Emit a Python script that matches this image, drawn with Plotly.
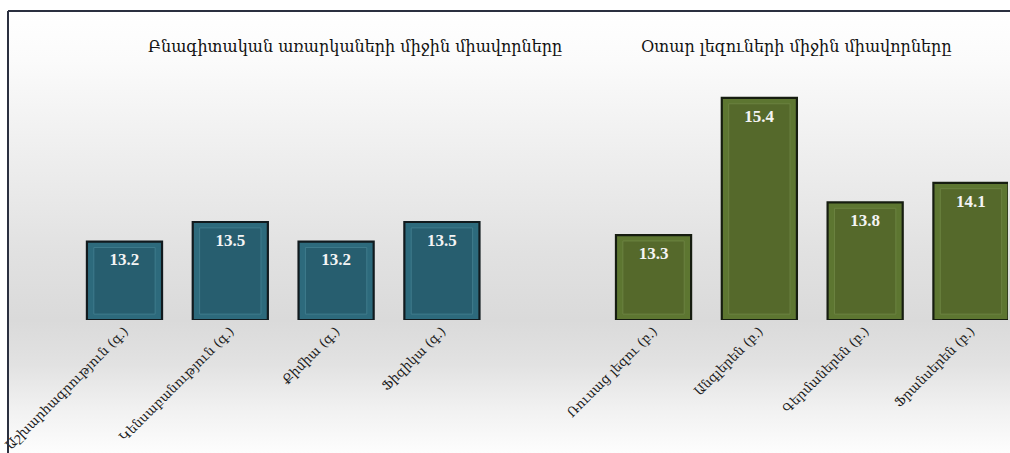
import base64
import plotly.graph_objects as go

# ---- data ----
science_labels = ["Աշխարհագրություն (գ.)", "Կենսաբանություն (գ.)", "Քիմիա (գ.)", "Ֆիզիկա (գ.)"]
science_values = [13.2, 13.5, 13.2, 13.5]
lang_labels = ["Ռուսաց լեզու (բ.)", "Անգլերեն (բ.)", "Գերմաներեն (բ.)", "Ֆրանսերեն (բ.)"]
lang_values = [13.3, 15.4, 13.8, 14.1]
science_title = "Բնագիտական առարկաների միջին միավորները"
lang_title = "Օտար լեզուների միջին միավորները"

science_x = [0, 1, 2, 3]
lang_x = [5, 6, 7, 8]

W, H = 1010, 453
Y_MIN, Y_MAX = 12.0, 15.75
FONT = "DejaVu Serif"

# background gradient (svg data uri)
stops = [(0.0, "#ffffff"), (0.11, "#fbfbfb"), (0.31, "#efefef"), (0.55, "#e1e1e1"),
         (0.70, "#dadada"), (0.80, "#e2e2e2"), (0.90, "#f1f1f1"), (1.0, "#fdfdfd")]
stop_xml = "".join(f'<stop offset="{o}" stop-color="{c}"/>' for o, c in stops)
svg = ('<svg xmlns="http://www.w3.org/2000/svg" width="1000" height="442" preserveAspectRatio="none">'
       '<defs><linearGradient id="g" x1="0" y1="0" x2="0" y2="1">' + stop_xml +
       '</linearGradient></defs><rect width="1000" height="442" fill="url(#g)"/></svg>')
bg_uri = "data:image/svg+xml;base64," + base64.b64encode(svg.encode()).decode()

fig = go.Figure()

def add_group(xs, vals, frame_col, panel_col, edge_col, hi_col):
    fig.add_trace(go.Bar(
        x=xs, y=[v - Y_MIN for v in vals], base=Y_MIN, width=0.71,
        marker=dict(color=frame_col, line=dict(color=edge_col, width=2.2)),
        hoverinfo="skip", showlegend=False,
    ))
    inset = 0.09
    fig.add_trace(go.Bar(
        x=xs, y=[v - Y_MIN - 2 * inset for v in vals], base=Y_MIN + inset, width=0.58,
        marker=dict(color=panel_col, line=dict(color=hi_col, width=1)),
        text=[f"{v:.1f}" for v in vals], textposition="inside",
        insidetextanchor="end",
        textfont=dict(family="Liberation Serif", size=17, color="#f4f4f4", weight="bold"),
        hoverinfo="skip", showlegend=False,
    ))

add_group(science_x, science_values, "#2d6a7c", "#275e6f", "#111a1e", "#3f7b8c")
add_group(lang_x, lang_values, "#5d7631", "#55692b", "#161d10", "#6b8240")

fig.update_layout(
    width=W, height=H,
    margin=dict(l=0, r=0, t=0, b=0),
    paper_bgcolor="#ffffff", plot_bgcolor="rgba(0,0,0,0)",
    barmode="overlay",
    template="none",
    uniformtext=dict(minsize=10, mode="show"),
    xaxis=dict(
        domain=[10 / W, 1008 / W],
        range=[-1.082, 8.35],
        tickmode="array",
        tickvals=science_x + lang_x,
        ticktext=science_labels + lang_labels,
        tickangle=-45,
        tickfont=dict(family=FONT, size=13, color="#1a1a1a"),
        showgrid=False, zeroline=False, showline=False, ticks="",
        automargin=False, fixedrange=True,
    ),
    yaxis=dict(
        domain=[(H - 320) / H, (H - 75) / H],
        range=[Y_MIN, Y_MAX],
        visible=False, showgrid=False, zeroline=False,
        automargin=False, fixedrange=True,
    ),
    images=[dict(
        source=bg_uri, xref="paper", yref="paper",
        x=8 / W, y=(H - 11) / H, sizex=1.0, sizey=(H - 11) / H,
        xanchor="left", yanchor="top", sizing="stretch", layer="below",
    )],
    shapes=[
        dict(type="line", xref="paper", yref="paper", x0=8 / W, x1=1.01, y0=(H - 11) / H, y1=(H - 11) / H,
             line=dict(color="#2b3040", width=2)),
        dict(type="line", xref="paper", yref="paper", x0=8 / W, x1=8 / W, y0=-0.01, y1=(H - 11) / H,
             line=dict(color="#2b3040", width=2)),
    ],
    annotations=[
        dict(text=science_title, xref="paper", yref="paper", x=355 / W, y=(H - 47) / H,
             xanchor="center", yanchor="middle", showarrow=False,
             font=dict(family=FONT, size=16, color="#111111")),
        dict(text=lang_title, xref="paper", yref="paper", x=796 / W, y=(H - 47) / H,
             xanchor="center", yanchor="middle", showarrow=False,
             font=dict(family=FONT, size=16, color="#111111")),
    ],
)

fig.write_html("out.html", config={"displayModeBar": False, "staticPlot": True},
               post_script="document.body.style.margin='0';document.body.style.overflow='hidden';")
